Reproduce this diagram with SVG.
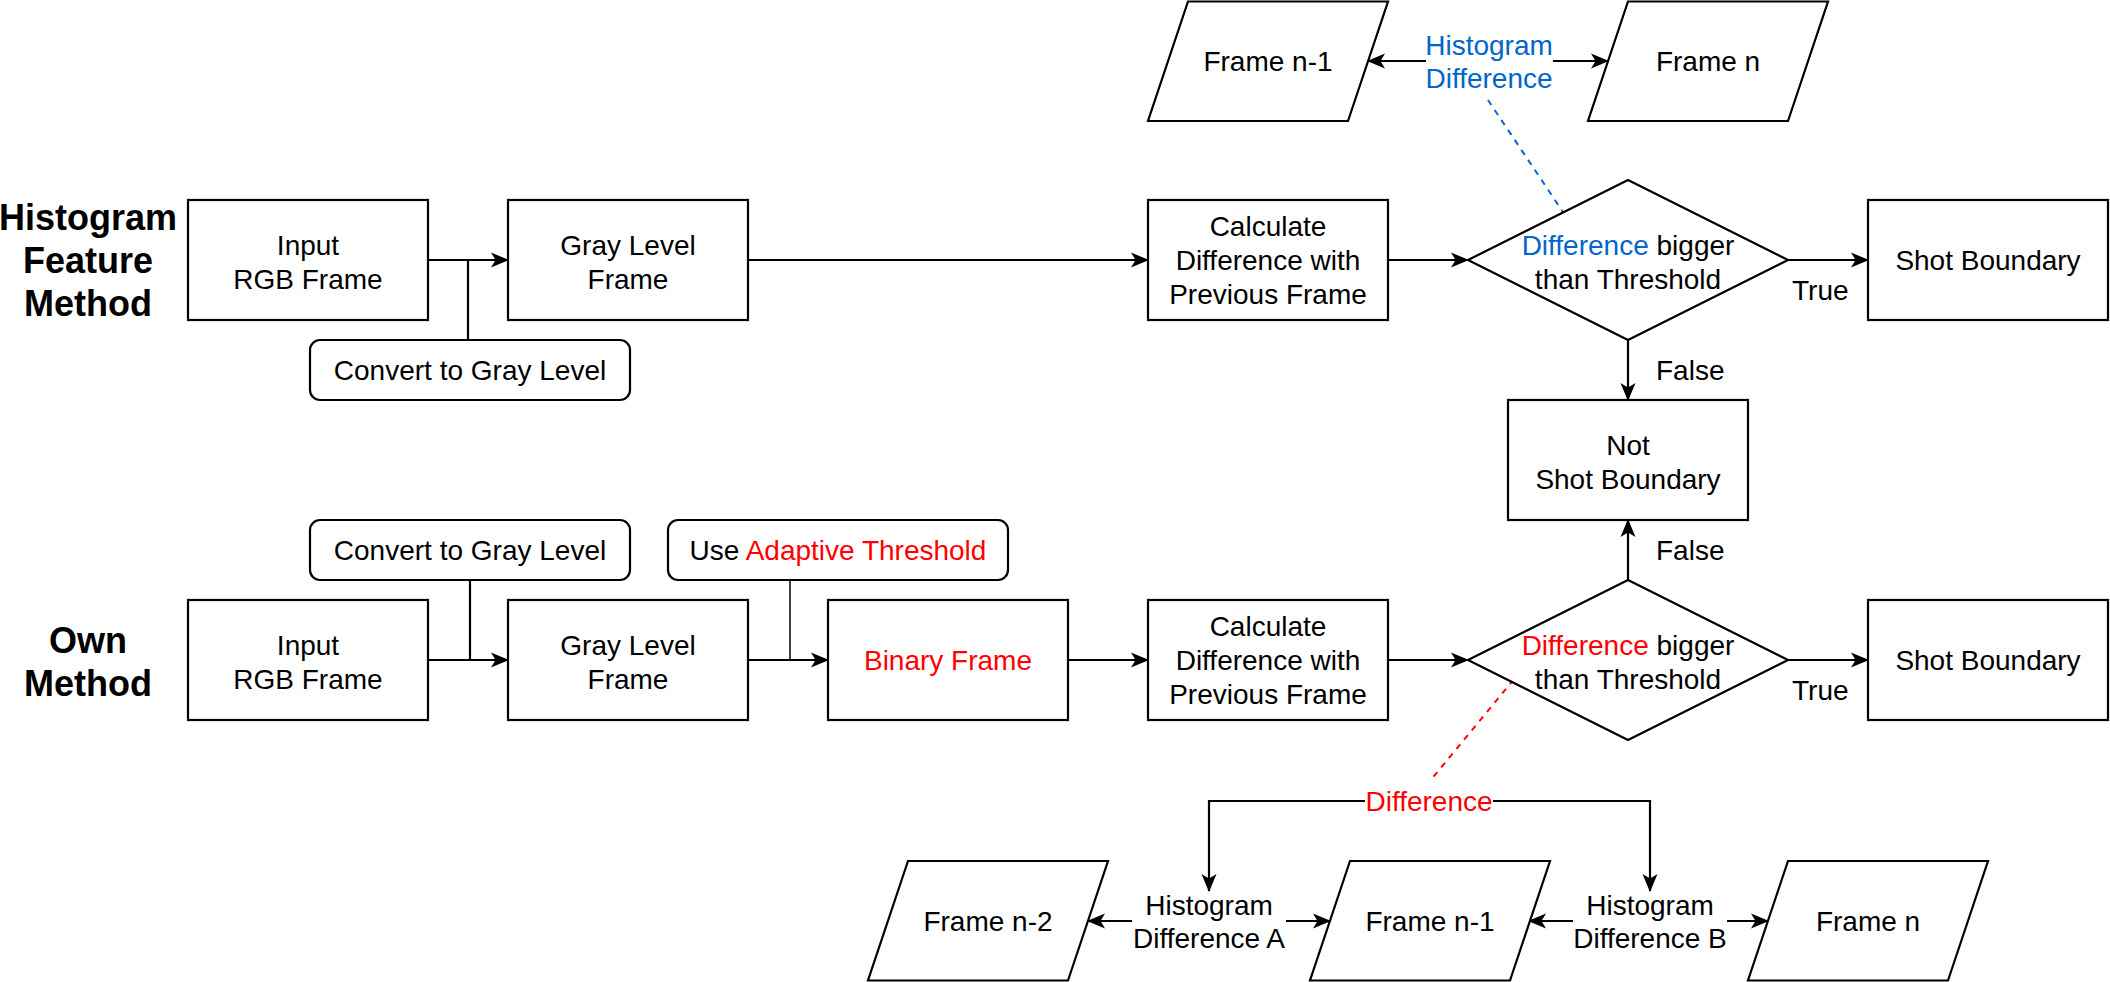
<svg xmlns="http://www.w3.org/2000/svg" width="2110" height="982" viewBox="0 0 2110 982">
<defs>
<style>
.box{fill:#fff;stroke:#000;stroke-width:2.2}
.t{font-family:"Liberation Sans",Arial,sans-serif;font-size:28px;fill:#000;text-anchor:middle}
.ts{font-family:"Liberation Sans",Arial,sans-serif;font-size:28px;fill:#000;text-anchor:start}
.title{font-family:"Liberation Sans",Arial,sans-serif;font-size:36px;font-weight:bold;fill:#000;text-anchor:middle}
.red{fill:#FF0000}
.blue{fill:#0066CC}
.e{fill:none;stroke:#000;stroke-width:2.2}
.ea{fill:none;stroke:#000;stroke-width:2.2;marker-end:url(#arr)}
</style>
<marker id="arr" markerUnits="userSpaceOnUse" markerWidth="18" markerHeight="16" viewBox="0 0 18 16" refX="17" refY="8" orient="auto">
<path d="M0,0.5 L18,8 L0,15.5 L4.5,8 Z" fill="#000"/>
</marker>
</defs>
<rect width="2110" height="982" fill="#fff"/>

<g id="labels">
<text class="title"><tspan x="88" y="230">Histogram</tspan><tspan x="88" y="273">Feature</tspan><tspan x="88" y="316">Method</tspan></text>
<text class="title"><tspan x="88" y="653">Own</tspan><tspan x="88" y="696">Method</tspan></text>
</g>

<g id="connectors">
<line class="ea" x1="428" y1="260" x2="508" y2="260"/>
<line class="e" x1="468" y1="340" x2="468" y2="260"/>
<line class="ea" x1="748" y1="260" x2="1148" y2="260"/>
<line class="ea" x1="1388" y1="260" x2="1468" y2="260"/>
<line class="ea" x1="1788" y1="260" x2="1868" y2="260"/>
<line class="ea" x1="1628" y1="340" x2="1628" y2="400"/>
<line class="ea" x1="1628" y1="580" x2="1628" y2="520"/>
<line class="ea" x1="428" y1="660" x2="508" y2="660"/>
<line class="e" x1="470" y1="580" x2="470" y2="660"/>
<line class="ea" x1="748" y1="660" x2="828" y2="660"/>
<line class="e" x1="790" y1="580" x2="790" y2="660" style="stroke-width:1.5"/>
<line class="ea" x1="1068" y1="660" x2="1148" y2="660"/>
<line class="ea" x1="1388" y1="660" x2="1468" y2="660"/>
<line class="ea" x1="1788" y1="660" x2="1868" y2="660"/>
<line class="ea" x1="1426" y1="61" x2="1368" y2="61"/>
<line class="ea" x1="1553" y1="61" x2="1608" y2="61"/>
<line x1="1488" y1="100" x2="1569" y2="221" stroke="#0066CC" stroke-width="2" stroke-dasharray="6 6"/>
<line x1="1529" y1="661" x2="1430" y2="781" stroke="#FF0000" stroke-width="2" stroke-dasharray="6 6"/>
<polyline class="ea" points="1365,801 1209,801 1209,891"/>
<polyline class="ea" points="1493,801 1650,801 1650,891"/>
<line class="ea" x1="1132" y1="921" x2="1088" y2="921"/>
<line class="ea" x1="1286" y1="921" x2="1330" y2="921"/>
<line class="ea" x1="1573" y1="921" x2="1529" y2="921"/>
<line class="ea" x1="1727" y1="921" x2="1768" y2="921"/>
<text class="t blue"><tspan x="1489" y="55">Histogram</tspan><tspan x="1489" y="88">Difference</tspan></text>
<text class="t red" x="1429" y="811">Difference</text>
<text class="t"><tspan x="1209" y="915">Histogram</tspan><tspan x="1209" y="948">Difference A</tspan></text>
<text class="t"><tspan x="1650" y="915">Histogram</tspan><tspan x="1650" y="948">Difference B</tspan></text>
<text class="ts" x="1792" y="300">True</text>
<text class="ts" x="1792" y="700">True</text>
<text class="ts" x="1656" y="380">False</text>
<text class="ts" x="1656" y="560">False</text>
</g>

<g id="input1"><rect class="box" x="188" y="200" width="240" height="120"/><text class="t"><tspan x="308" y="255">Input</tspan><tspan x="308" y="289">RGB Frame</tspan></text></g>
<g id="gray1"><rect class="box" x="508" y="200" width="240" height="120"/><text class="t"><tspan x="628" y="255">Gray Level</tspan><tspan x="628" y="289">Frame</tspan></text></g>
<g id="convert1"><rect class="box" x="310" y="340" width="320" height="60" rx="10"/><text class="t" x="470" y="380">Convert to Gray Level</text></g>
<g id="calc1"><rect class="box" x="1148" y="200" width="240" height="120"/><text class="t"><tspan x="1268" y="236">Calculate</tspan><tspan x="1268" y="270">Difference with</tspan><tspan x="1268" y="304">Previous Frame</tspan></text></g>
<g id="decision1"><polygon class="box" points="1628,180 1788,260 1628,340 1468,260"/><text class="t"><tspan x="1628" y="255"><tspan class="blue">Difference</tspan> bigger</tspan><tspan x="1628" y="289">than Threshold</tspan></text></g>
<g id="shot1"><rect class="box" x="1868" y="200" width="240" height="120"/><text class="t" x="1988" y="270">Shot Boundary</text></g>
<g id="notshot"><rect class="box" x="1508" y="400" width="240" height="120"/><text class="t"><tspan x="1628" y="455">Not</tspan><tspan x="1628" y="489">Shot Boundary</tspan></text></g>
<g id="framen1top"><polygon class="box" points="1188,1.5 1388,1.5 1348,121 1148,121"/><text class="t" x="1268" y="71">Frame n-1</text></g>
<g id="framentop"><polygon class="box" points="1628,1.5 1828,1.5 1788,121 1588,121"/><text class="t" x="1708" y="71">Frame n</text></g>

<g id="convert2"><rect class="box" x="310" y="520" width="320" height="60" rx="10"/><text class="t" x="470" y="560">Convert to Gray Level</text></g>
<g id="adaptive"><rect class="box" x="668" y="520" width="340" height="60" rx="10"/><text class="t" x="838" y="560">Use <tspan class="red">Adaptive Threshold</tspan></text></g>
<g id="input2"><rect class="box" x="188" y="600" width="240" height="120"/><text class="t"><tspan x="308" y="655">Input</tspan><tspan x="308" y="689">RGB Frame</tspan></text></g>
<g id="gray2"><rect class="box" x="508" y="600" width="240" height="120"/><text class="t"><tspan x="628" y="655">Gray Level</tspan><tspan x="628" y="689">Frame</tspan></text></g>
<g id="binary"><rect class="box" x="828" y="600" width="240" height="120"/><text class="t red" x="948" y="670">Binary Frame</text></g>
<g id="calc2"><rect class="box" x="1148" y="600" width="240" height="120"/><text class="t"><tspan x="1268" y="636">Calculate</tspan><tspan x="1268" y="670">Difference with</tspan><tspan x="1268" y="704">Previous Frame</tspan></text></g>
<g id="decision2"><polygon class="box" points="1628,580 1788,660 1628,740 1468,660"/><text class="t"><tspan x="1628" y="655"><tspan class="red">Difference</tspan> bigger</tspan><tspan x="1628" y="689">than Threshold</tspan></text></g>
<g id="shot2"><rect class="box" x="1868" y="600" width="240" height="120"/><text class="t" x="1988" y="670">Shot Boundary</text></g>
<g id="framen2"><polygon class="box" points="908,861 1108,861 1068,980.5 868,980.5"/><text class="t" x="988" y="931">Frame n-2</text></g>
<g id="framen1bot"><polygon class="box" points="1350,861 1550,861 1510,980.5 1310,980.5"/><text class="t" x="1430" y="931">Frame n-1</text></g>
<g id="frannbot"><polygon class="box" points="1788,861 1988,861 1948,980.5 1748,980.5"/><text class="t" x="1868" y="931">Frame n</text></g>
</svg>
